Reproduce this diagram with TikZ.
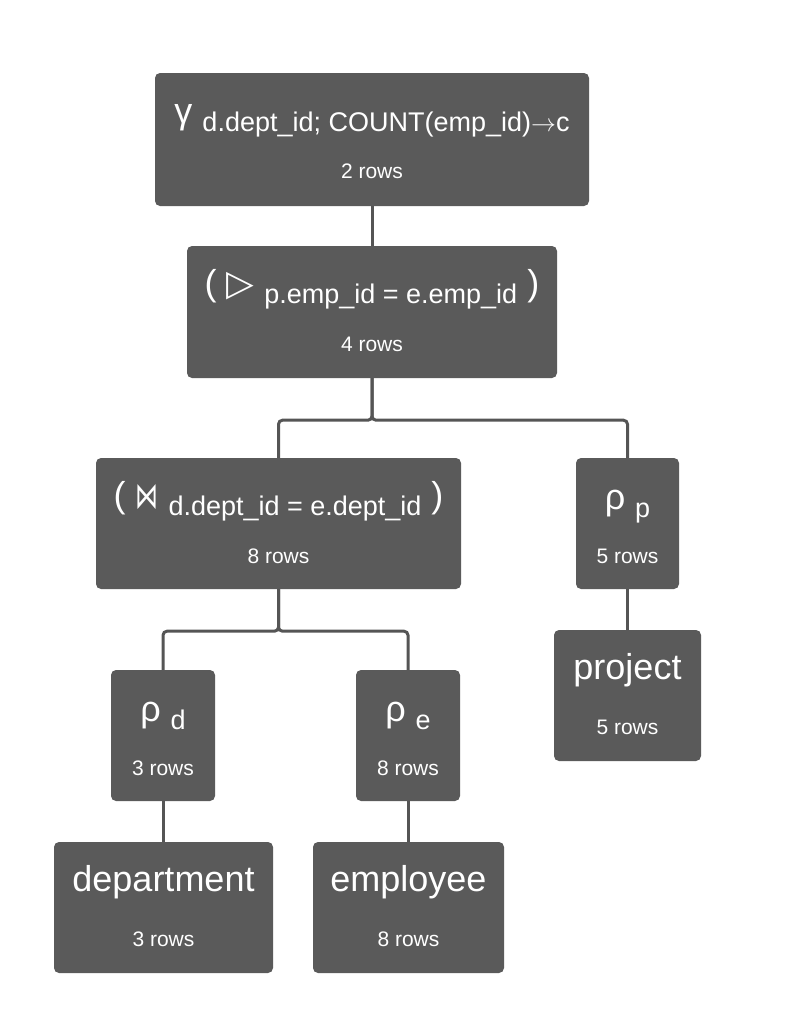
\documentclass[tikz,border=0pt]{standalone}
\usepackage{fontspec}
\setmainfont{Liberation Sans}
\newfontfamily\symf{DejaVu Sans}
\definecolor{boxgray}{HTML}{5A5A5A}
\definecolor{linegray}{HTML}{555555}
\newcommand\fm{\fontsize{36}{40}\selectfont}
\newcommand\fsb{\fontsize{27}{30}\selectfont}
\newcommand\frw{\fontsize{21}{24}\selectfont}
\newcommand\lowsub[1]{\lower8pt\hbox{\fsb #1}}
\begin{document}
\begin{tikzpicture}[x=1pt,y=-1pt,
  box/.style={fill=boxgray, rounded corners=5pt, inner sep=0pt, draw=none},
  lbl/.style={text=white, inner sep=0pt, anchor=base},
  link/.style={draw=linegray, line width=3pt, rounded corners=4pt}]
\useasboundingbox (0,0) rectangle (790,1021);

% boxes
\node[box, minimum width=434pt, minimum height=133pt] (top)  at (372,139.5) {};
\node[box, minimum width=370pt, minimum height=132pt] (n2)   at (372,312) {};
\node[box, minimum width=365pt, minimum height=131pt] (join) at (278.5,523.5) {};
\node[box, minimum width=103pt, minimum height=131pt] (rp)   at (627.5,523.5) {};
\node[box, minimum width=147pt, minimum height=131pt] (proj) at (627.5,695.5) {};
\node[box, minimum width=104pt, minimum height=131pt] (rd)   at (163,735.5) {};
\node[box, minimum width=104pt, minimum height=131pt] (re)   at (408,735.5) {};
\node[box, minimum width=219pt, minimum height=131pt] (dept) at (163.5,907.5) {};
\node[box, minimum width=191pt, minimum height=131pt] (emp)  at (408.5,907.5) {};

% connectors
\draw[link] (top.south) -- (n2.north);
\draw[link] (n2.south) -- ++(0,42) -| (join.north);
\draw[link] (n2.south) -- ++(0,42) -| (rp.north);
\draw[link] (join.south) -- ++(0,42) -| (rd.north);
\draw[link] (join.south) -- ++(0,42) -| (re.north);
\draw[link] (rd.south) -- (rd.south |- dept.north);
\draw[link] (re.south) -- (re.south |- emp.north);
\draw[link] (rp.south) -- (rp.south |- proj.north);

% labels
\node[lbl] (top-l) at ([yshift=-51pt]top.north) {\fm γ \lowsub{d.dept\_id; COUNT(emp\_id)$\rightarrow$c}};
\node[lbl] (top-r) at ([yshift=-106pt]top.north) {\frw 2 rows};

\node[lbl] (n2-l) at ([yshift=-50pt]n2.north) {\fm ( {\symf ▷} \lowsub{p.emp\_id = e.emp\_id} )};
\node[lbl] (n2-r) at ([yshift=-106pt]n2.north) {\frw 4 rows};

\node[lbl] (join-l) at ([yshift=-50pt]join.north) {\fm ( \raisebox{-1pt}{\resizebox{23pt}{24pt}{\symf ⋈}} \lowsub{d.dept\_id = e.dept\_id} )};
\node[lbl] (join-r) at ([yshift=-106pt]join.north) {\frw 8 rows};

\node[lbl] (rp-l) at ([yshift=-52pt]rp.north) {\fm ρ \lowsub{p}};
\node[lbl] (rp-r) at ([yshift=-106pt]rp.north) {\frw 5 rows};

\node[lbl] (rd-l) at ([yshift=-52pt]rd.north) {\fm ρ \lowsub{d}};
\node[lbl] (rd-r) at ([yshift=-106pt]rd.north) {\frw 3 rows};

\node[lbl] (re-l) at ([yshift=-52pt]re.north) {\fm ρ \lowsub{e}};
\node[lbl] (re-r) at ([yshift=-106pt]re.north) {\frw 8 rows};

\node[lbl] (proj-l) at ([yshift=-50pt]proj.north) {\fm project};
\node[lbl] (proj-r) at ([yshift=-105pt]proj.north) {\frw 5 rows};

\node[lbl] (dept-l) at ([yshift=-50pt]dept.north) {\fm department};
\node[lbl] (dept-r) at ([yshift=-105pt]dept.north) {\frw 3 rows};

\node[lbl] (emp-l) at ([yshift=-50pt]emp.north) {\fm employee};
\node[lbl] (emp-r) at ([yshift=-105pt]emp.north) {\frw 8 rows};
\end{tikzpicture}
\end{document}
